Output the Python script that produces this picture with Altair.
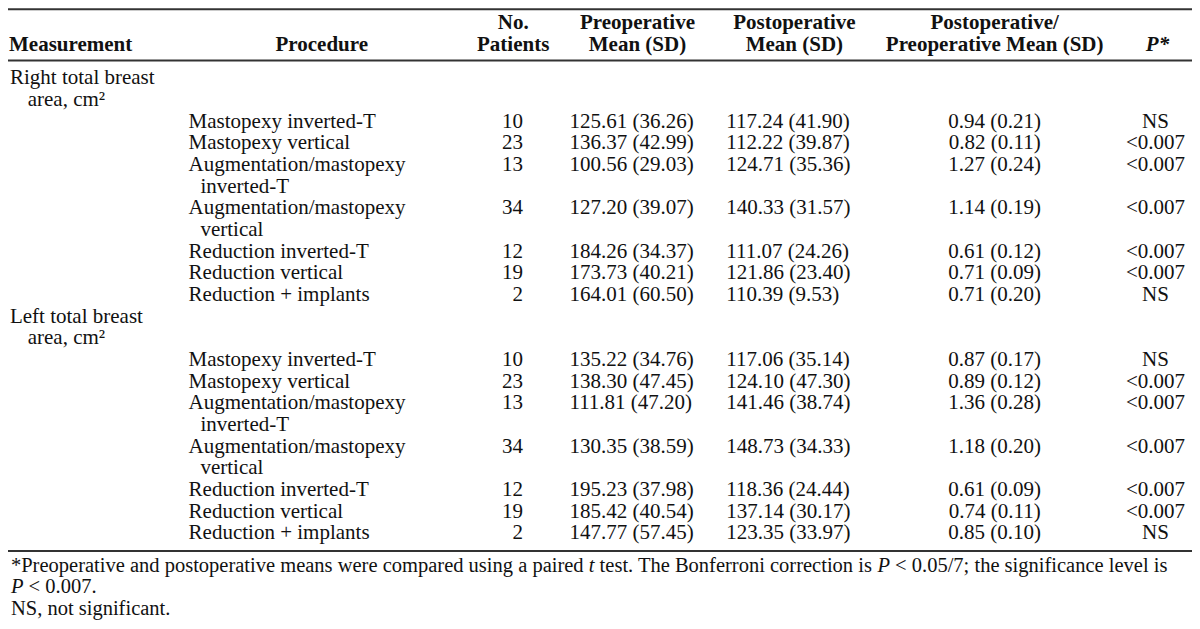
import altair as alt
import pandas as pd

# ---------------- data ----------------
measurements = ["Right total breast", "Left total breast"]
measurement_unit = "area, cm²"
procedures = [
    "Mastopexy inverted-T",
    "Mastopexy vertical",
    "Augmentation/mastopexy",
    "Augmentation/mastopexy",
    "Reduction inverted-T",
    "Reduction vertical",
    "Reduction + implants",
]
procedure_cont = ["", "", "inverted-T", "vertical", "", "", ""]
n_patients = [10, 23, 13, 34, 12, 19, 2]

right_pre_mean = [125.61, 136.37, 100.56, 127.20, 184.26, 173.73, 164.01]
right_pre_sd = [36.26, 42.99, 29.03, 39.07, 34.37, 40.21, 60.50]
right_post_mean = [117.24, 112.22, 124.71, 140.33, 111.07, 121.86, 110.39]
right_post_sd = [41.90, 39.87, 35.36, 31.57, 24.26, 23.40, 9.53]
right_ratio = [0.94, 0.82, 1.27, 1.14, 0.61, 0.71, 0.71]
right_ratio_sd = [0.21, 0.11, 0.24, 0.19, 0.12, 0.09, 0.20]
right_p = ["NS", "<0.007", "<0.007", "<0.007", "<0.007", "<0.007", "NS"]

left_pre_mean = [135.22, 138.30, 111.81, 130.35, 195.23, 185.42, 147.77]
left_pre_sd = [34.76, 47.45, 47.20, 38.59, 37.98, 40.54, 57.45]
left_post_mean = [117.06, 124.10, 141.46, 148.73, 118.36, 137.14, 123.35]
left_post_sd = [35.14, 47.30, 38.74, 34.33, 24.44, 30.17, 33.97]
left_ratio = [0.87, 0.89, 1.36, 1.18, 0.61, 0.74, 0.85]
left_ratio_sd = [0.17, 0.12, 0.28, 0.20, 0.09, 0.11, 0.10]
left_p = ["NS", "<0.007", "<0.007", "<0.007", "<0.007", "<0.007", "NS"]

header_line1 = ["", "", "No.", "Preoperative", "Postoperative", "Postoperative/", ""]
header_line2 = ["Measurement", "Procedure", "Patients", "Mean (SD)", "Mean (SD)",
                "Preoperative Mean (SD)", "P*"]

foot_a = "*Preoperative and postoperative means were compared using a paired"
foot_t = "t"
foot_b = "test. The Bonferroni correction is"
foot_p = "P"
foot_d = "< 0.05/7; the significance level is"
foot2_rest = "< 0.007."
foot3 = "NS, not significant."

# ---------------- layout (reference pixel units) ----------------
ROW0 = 77
ROW_H = 22
proc_rows = [2, 3, 4, 6, 8, 9, 10]
group_start = [0, 11]
HEAD_Y = [21, 43]
RULES = [7, 59, 557]
FOOT_Y = [572, 594, 616]

X_MEAS, X_MEAS_CONT = 2, 20
X_PROC, X_PROC_CONT = 183, 195
X_N = 522
X_PRE = 569
X_POST = 728
X_RATIO = 1000
X_P = 1163
HEAD_X = [318, 512, 638, 797, 1000, 1165]

FONT = "Liberation Serif"
FS = 21
FS_FOOT = 20.5

xs = alt.Scale(domain=[0, 1200], range=[0, 1184])
ys = alt.Scale(domain=[5.76, 628.1], range=[0, 613])


def ry(i):
    return ROW0 + ROW_H * i


left_rows, right_rows, center_rows = [], [], []
for g, gs in enumerate(group_start):
    left_rows.append({"x": X_MEAS, "y": ry(gs), "t": measurements[g]})
    left_rows.append({"x": X_MEAS_CONT, "y": ry(gs + 1), "t": measurement_unit})
    pm = [right_pre_mean, left_pre_mean][g]
    psd = [right_pre_sd, left_pre_sd][g]
    qm = [right_post_mean, left_post_mean][g]
    qsd = [right_post_sd, left_post_sd][g]
    rr = [right_ratio, left_ratio][g]
    rsd = [right_ratio_sd, left_ratio_sd][g]
    pv = [right_p, left_p][g]
    for k, off in enumerate(proc_rows):
        r = gs + off
        left_rows.append({"x": X_PROC, "y": ry(r), "t": procedures[k]})
        if procedure_cont[k]:
            left_rows.append({"x": X_PROC_CONT, "y": ry(r + 1), "t": procedure_cont[k]})
        right_rows.append({"x": X_N, "y": ry(r), "t": str(n_patients[k])})
        left_rows.append({"x": X_PRE, "y": ry(r), "t": f"{pm[k]:.2f} ({psd[k]:.2f})"})
        left_rows.append({"x": X_POST, "y": ry(r), "t": f"{qm[k]:.2f} ({qsd[k]:.2f})"})
        center_rows.append({"x": X_RATIO, "y": ry(r), "t": f"{rr[k]:.2f} ({rsd[k]:.2f})"})
        center_rows.append({"x": X_P, "y": ry(r), "t": pv[k]})

head_left = [{"x": 1, "y": HEAD_Y[1], "t": header_line2[0]}]
head_center = []
for j, hx in enumerate(HEAD_X):
    if j == 5:
        continue
    if header_line1[j + 1]:
        head_center.append({"x": hx, "y": HEAD_Y[0], "t": header_line1[j + 1]})
    head_center.append({"x": hx, "y": HEAD_Y[1], "t": header_line2[j + 1]})
head_italic = [{"x": HEAD_X[5], "y": HEAD_Y[1], "t": header_line2[6]}]

foot_norm = [
    {"x": 3, "y": FOOT_Y[0], "t": foot_a},
    {"x": 599.6, "y": FOOT_Y[0], "t": foot_b},
    {"x": 899.1, "y": FOOT_Y[0], "t": foot_d},
    {"x": 20.9, "y": FOOT_Y[1], "t": foot2_rest},
    {"x": 3, "y": FOOT_Y[2], "t": foot3},
]
foot_ital = [
    {"x": 588.6, "y": FOOT_Y[0], "t": foot_t},
    {"x": 881.2, "y": FOOT_Y[0], "t": foot_p},
    {"x": 3, "y": FOOT_Y[1], "t": foot_p},
]

rules = pd.DataFrame({"x": [0] * 3, "x2": [1200] * 3, "y": RULES})


def text_layer(rows, align="left", weight="normal", style="normal", size=FS):
    return alt.Chart(pd.DataFrame(rows)).mark_text(
        align=align, baseline="middle", font=FONT, fontSize=size,
        fontWeight=weight, fontStyle=style, color="#111111",
    ).encode(
        x=alt.X("x:Q", scale=xs, axis=None),
        y=alt.Y("y:Q", scale=ys, axis=None),
        text="t:N",
    )


rule_layer = alt.Chart(rules).mark_rule(color="#333333", strokeWidth=2).encode(
    x=alt.X("x:Q", scale=xs, axis=None),
    x2="x2:Q",
    y=alt.Y("y:Q", scale=ys, axis=None),
)

chart = alt.layer(
    rule_layer,
    text_layer(head_left, "left", "bold"),
    text_layer(head_center, "center", "bold"),
    text_layer(head_italic, "center", "bold", "italic"),
    text_layer(left_rows, "left"),
    text_layer(right_rows, "right"),
    text_layer(center_rows, "center"),
    text_layer(foot_norm, "left", size=FS_FOOT),
    text_layer(foot_ital, "left", style="italic", size=FS_FOOT),
).properties(
    width=1184, height=613, padding=0, autosize="none"
).configure_view(stroke=None)

chart.save("out.html", embed_options={"renderer": "svg", "actions": False})
